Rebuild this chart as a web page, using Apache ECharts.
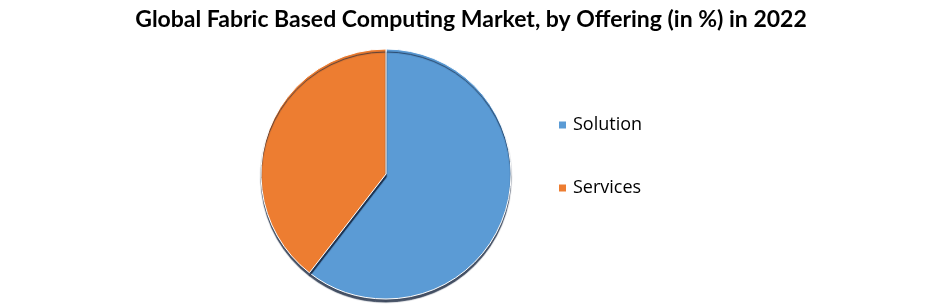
<!DOCTYPE html>
<html><head><meta charset="utf-8">
<script src="https://cdn.jsdelivr.net/npm/echarts@6/dist/echarts.min.js"></script>
<style>html,body{margin:0;padding:0;background:#fff}#c{width:940px;height:308px}</style>
</head><body><div id="c"></div>
<script>
const categories = ['Solution', 'Services'];
const shares = [60.5, 39.5];
const colors = ['#5B9BD5', '#ED7D31'];

const chart = echarts.init(document.getElementById('c'));
chart.setOption({
  animation: false,
  title: {
    text: 'Global Fabric Based Computing Market, by Offering (in %) in 2022',
    left: 466, top: 3, textAlign: 'center',
    textStyle: {fontFamily: 'Lato', fontWeight: 'bold', fontSize: 23, color: '#000'}
  },
  legend: {
    orient: 'vertical', left: 552, top: 111, itemGap: 45,
    itemWidth: 9, itemHeight: 9, icon: 'rect',
    textStyle: {fontFamily: 'Open Sans', fontSize: 18, color: '#000', padding: [0, 0, 0, 1]},
    data: categories
  },
  series: [{
    type: 'pie', center: [386, 174], radius: 125,
    startAngle: 90, clockwise: true,
    label: {show: false}, labelLine: {show: false},
    itemStyle: {borderColor: '#fff', borderWidth: 1, shadowColor: 'rgba(20,35,60,0.8)', shadowBlur: 1, shadowOffsetY: 3},
    emphasis: {disabled: true},
    data: categories.map((n, i) => ({name: n, value: shares[i], itemStyle: {color: colors[i]}}))
  }]
});
</script></body></html>
